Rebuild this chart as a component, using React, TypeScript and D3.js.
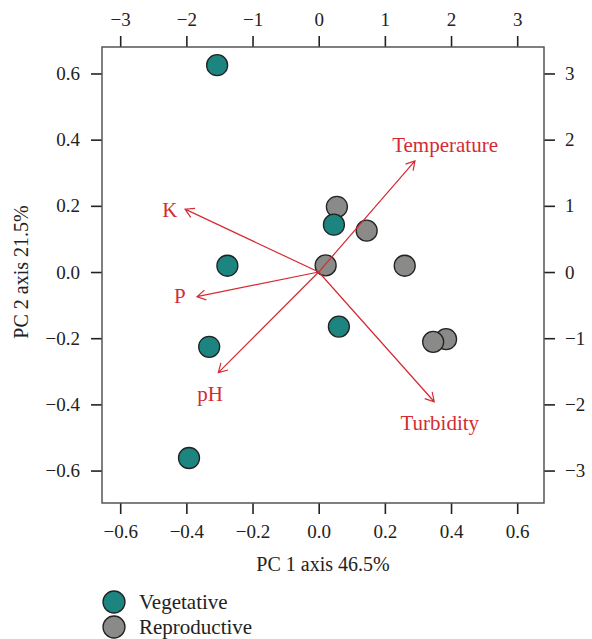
import React, { useEffect, useRef } from "react";
import * as d3 from "d3";

// sample scores (PC1, PC2)
const vegX = [-0.307, 0.046, -0.276, 0.061, -0.331, -0.392];
const vegY = [0.625, 0.143, 0.019, -0.165, -0.226, -0.562];
const repX = [0.385, 0.055, 0.145, 0.021, 0.26, 0.346];
const repY = [-0.203, 0.197, 0.125, 0.02, 0.019, -0.211];

// variable loadings (top / right axis units)
const varNames = ["Temperature", "K", "P", "pH", "Turbidity"];
const arrowX = [1.455, -2.02, -1.84, -1.517, 1.746];
const arrowY = [1.68, 0.95, -0.373, -1.52, -1.96];
const labelX = [1.91, -2.25, -2.1, -1.64, 1.83];
const labelY = [1.92, 0.94, -0.35, -1.84, -2.28];

const bottomTicks = [-0.6, -0.4, -0.2, 0, 0.2, 0.4, 0.6];
const topTicks = [-3, -2, -1, 0, 1, 2, 3];

const groups = ["Vegetative", "Reproductive"];
const TEAL = "#1d8580";
const GREY = "#8a8a88";
const RED = "#d42b32";
const FONT = "'Liberation Serif', 'Times New Roman', serif";

const W = 592, H = 639;
const box = { left: 102, right: 544, top: 47, bottom: 503 };

export default function App() {
  const ref = useRef(null);

  useEffect(() => {
    const svg = d3.select(ref.current);
    svg.selectAll("*").remove();

    const x = d3.scaleLinear().domain([-0.655, 0.681]).range([box.left, box.right]);
    const y = d3.scaleLinear().domain([-0.698, 0.68]).range([box.bottom, box.top]);
    const x2 = d3.scaleLinear().domain([-0.655 * 5, 0.681 * 5]).range([box.left, box.right]);
    const y2 = d3.scaleLinear().domain([-0.698 * 5, 0.68 * 5]).range([box.bottom, box.top]);

    const styleAxis = (g) => {
      g.select(".domain").remove();
      g.selectAll("line").attr("stroke", "#222").attr("stroke-width", 1.6);
      g.selectAll("text").attr("fill", "#222").attr("font-family", FONT).attr("font-size", 19);
    };

    svg.append("g")
      .attr("transform", `translate(0,${box.bottom})`)
      .call(d3.axisBottom(x).tickValues(bottomTicks).tickFormat(d3.format(".1f")).tickSize(11).tickPadding(11))
      .call(styleAxis);
    svg.append("g")
      .attr("transform", `translate(0,${box.top})`)
      .call(d3.axisTop(x2).tickValues(topTicks).tickFormat(d3.format("d")).tickSize(11).tickPadding(10))
      .call(styleAxis);
    svg.append("g")
      .attr("transform", `translate(${box.left},0)`)
      .call(d3.axisLeft(y).tickValues(bottomTicks).tickFormat(d3.format(".1f")).tickSize(11).tickPadding(11))
      .call(styleAxis);
    svg.append("g")
      .attr("transform", `translate(${box.right},0)`)
      .call(d3.axisRight(y2).tickValues(topTicks).tickFormat(d3.format("d")).tickSize(11).tickPadding(10))
      .call(styleAxis);

    svg.append("rect")
      .attr("x", box.left).attr("y", box.top)
      .attr("width", box.right - box.left).attr("height", box.bottom - box.top)
      .attr("fill", "none").attr("stroke", "#555").attr("stroke-width", 1.5);

    // axis titles
    svg.append("text")
      .attr("x", 323).attr("y", 571)
      .attr("text-anchor", "middle")
      .attr("font-family", FONT).attr("font-size", 20).attr("fill", "#222")
      .text("PC 1 axis 46.5%");
    svg.append("text")
      .attr("transform", `translate(28,272) rotate(-90)`)
      .attr("text-anchor", "middle")
      .attr("font-family", FONT).attr("font-size", 20).attr("fill", "#222")
      .text("PC 2 axis 21.5%");

    // points
    const rep = repX.map((v, i) => ({ x: v, y: repY[i] }));
    const veg = vegX.map((v, i) => ({ x: v, y: vegY[i] }));
    svg.append("g").selectAll("circle")
      .data(rep).enter().append("circle")
      .attr("cx", d => x(d.x)).attr("cy", d => y(d.y)).attr("r", 10.5)
      .attr("fill", GREY).attr("stroke", "#222").attr("stroke-width", 1.3);
    svg.append("g").selectAll("circle")
      .data(veg).enter().append("circle")
      .attr("cx", d => x(d.x)).attr("cy", d => y(d.y)).attr("r", 10.5)
      .attr("fill", TEAL).attr("stroke", "#222").attr("stroke-width", 1.3);

    // loading arrows
    const ox = x2(0), oy = y2(0);
    const head = 10, ang = Math.PI / 6;
    const ag = svg.append("g");
    varNames.forEach((name, i) => {
      const ex = x2(arrowX[i]), ey = y2(arrowY[i]);
      const th = Math.atan2(ey - oy, ex - ox);
      const p = d3.path();
      p.moveTo(ox, oy);
      p.lineTo(ex, ey);
      p.moveTo(ex - head * Math.cos(th - ang), ey - head * Math.sin(th - ang));
      p.lineTo(ex, ey);
      p.lineTo(ex - head * Math.cos(th + ang), ey - head * Math.sin(th + ang));
      ag.append("path").attr("d", p.toString())
        .attr("fill", "none").attr("stroke", RED).attr("stroke-width", 1.2);
      ag.append("text")
        .attr("x", x2(labelX[i])).attr("y", y2(labelY[i]))
        .attr("dy", "0.35em").attr("text-anchor", "middle")
        .attr("font-family", FONT).attr("font-size", 21).attr("fill", RED)
        .text(name);
    });

    // legend
    const lg = svg.append("g");
    groups.forEach((g, i) => {
      const cy = 602 + i * 25;
      lg.append("circle").attr("cx", 114).attr("cy", cy).attr("r", 11)
        .attr("fill", i === 0 ? TEAL : GREY).attr("stroke", "#222").attr("stroke-width", 1.3);
      lg.append("text").attr("x", 139).attr("y", cy).attr("dy", "0.35em")
        .attr("font-family", FONT).attr("font-size", 21).attr("fill", "#222")
        .text(g);
    });
  }, []);

  return (
    <svg ref={ref} width={W} height={H}
      style={{ position: "absolute", left: 0, top: 0, background: "#fff" }} />
  );
}
